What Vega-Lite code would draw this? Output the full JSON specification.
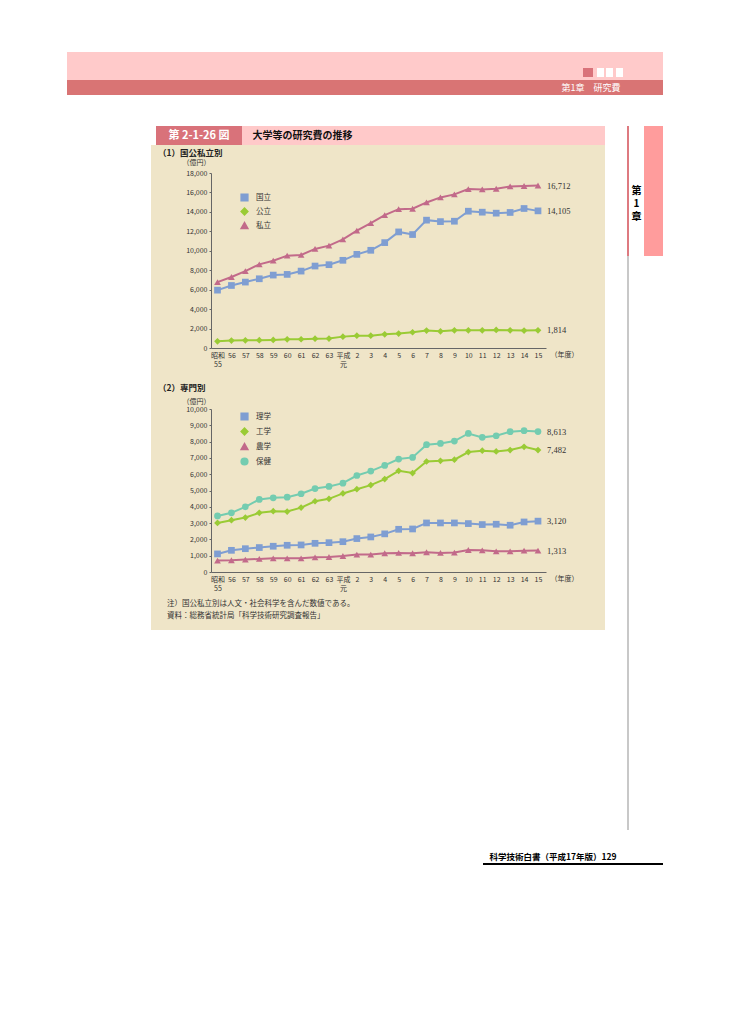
{
"$schema": "https://vega.github.io/schema/vega-lite/v6.json",
"padding": {"left": 67, "top": 52, "right": 0, "bottom": 0},
"background": "white",
"spacing": 0,
"resolve": {"scale": {"color": "independent", "shape": "independent"}, "legend": {"color": "independent", "shape": "independent"}},
"config": {
  "font": "Noto Sans CJK JP",
  "view": {"stroke": null},
  "concat": {"spacing": 0},
  "title": {"anchor": "start", "frame": "group"},
  "axis": {"labelColor": "#333", "titleColor": "#333", "domainColor": "#666", "tickColor": "#666", "grid": false, "labelFontSize": 7, "titleFontSize": 7, "titleFontWeight": "normal", "labelFlush": false, "labelOverlap": false},
  "legend": {"labelFontSize": 7.5, "labelColor": "#333", "padding": 0}
},
"datasets": {
  "kk": [
    {"year":1980,"s":"国立","v":5950},{"year":1981,"s":"国立","v":6430},{"year":1982,"s":"国立","v":6780},{"year":1983,"s":"国立","v":7120},{"year":1984,"s":"国立","v":7500},{"year":1985,"s":"国立","v":7570},{"year":1986,"s":"国立","v":7910},{"year":1987,"s":"国立","v":8430},{"year":1988,"s":"国立","v":8570},{"year":1989,"s":"国立","v":9020},{"year":1990,"s":"国立","v":9630},{"year":1991,"s":"国立","v":10050},{"year":1992,"s":"国立","v":10840},{"year":1993,"s":"国立","v":11940},{"year":1994,"s":"国立","v":11670},{"year":1995,"s":"国立","v":13150},{"year":1996,"s":"国立","v":13000},{"year":1997,"s":"国立","v":13040},{"year":1998,"s":"国立","v":14070},{"year":1999,"s":"国立","v":13970},{"year":2000,"s":"国立","v":13870},{"year":2001,"s":"国立","v":13940},{"year":2002,"s":"国立","v":14350},{"year":2003,"s":"国立","v":14105},
    {"year":1980,"s":"公立","v":690},{"year":1981,"s":"公立","v":760},{"year":1982,"s":"公立","v":790},{"year":1983,"s":"公立","v":800},{"year":1984,"s":"公立","v":830},{"year":1985,"s":"公立","v":890},{"year":1986,"s":"公立","v":900},{"year":1987,"s":"公立","v":960},{"year":1988,"s":"公立","v":970},{"year":1989,"s":"公立","v":1170},{"year":1990,"s":"公立","v":1270},{"year":1991,"s":"公立","v":1270},{"year":1992,"s":"公立","v":1410},{"year":1993,"s":"公立","v":1480},{"year":1994,"s":"公立","v":1620},{"year":1995,"s":"公立","v":1790},{"year":1996,"s":"公立","v":1720},{"year":1997,"s":"公立","v":1820},{"year":1998,"s":"公立","v":1820},{"year":1999,"s":"公立","v":1820},{"year":2000,"s":"公立","v":1860},{"year":2001,"s":"公立","v":1820},{"year":2002,"s":"公立","v":1790},{"year":2003,"s":"公立","v":1814},
    {"year":1980,"s":"私立","v":6780},{"year":1981,"s":"私立","v":7300},{"year":1982,"s":"私立","v":7910},{"year":1983,"s":"私立","v":8600},{"year":1984,"s":"私立","v":8980},{"year":1985,"s":"私立","v":9500},{"year":1986,"s":"私立","v":9570},{"year":1987,"s":"私立","v":10190},{"year":1988,"s":"私立","v":10530},{"year":1989,"s":"私立","v":11180},{"year":1990,"s":"私立","v":12080},{"year":1991,"s":"私立","v":12840},{"year":1992,"s":"私立","v":13660},{"year":1993,"s":"私立","v":14280},{"year":1994,"s":"私立","v":14320},{"year":1995,"s":"私立","v":14970},{"year":1996,"s":"私立","v":15490},{"year":1997,"s":"私立","v":15800},{"year":1998,"s":"私立","v":16350},{"year":1999,"s":"私立","v":16310},{"year":2000,"s":"私立","v":16380},{"year":2001,"s":"私立","v":16620},{"year":2002,"s":"私立","v":16660},{"year":2003,"s":"私立","v":16712}
  ],
  "sm": [
    {"year":1980,"s":"理学","v":1110},{"year":1981,"s":"理学","v":1330},{"year":1982,"s":"理学","v":1430},{"year":1983,"s":"理学","v":1500},{"year":1984,"s":"理学","v":1580},{"year":1985,"s":"理学","v":1640},{"year":1986,"s":"理学","v":1660},{"year":1987,"s":"理学","v":1760},{"year":1988,"s":"理学","v":1800},{"year":1989,"s":"理学","v":1860},{"year":1990,"s":"理学","v":2050},{"year":1991,"s":"理学","v":2150},{"year":1992,"s":"理学","v":2340},{"year":1993,"s":"理学","v":2620},{"year":1994,"s":"理学","v":2640},{"year":1995,"s":"理学","v":3010},{"year":1996,"s":"理学","v":3010},{"year":1997,"s":"理学","v":3010},{"year":1998,"s":"理学","v":2970},{"year":1999,"s":"理学","v":2910},{"year":2000,"s":"理学","v":2930},{"year":2001,"s":"理学","v":2870},{"year":2002,"s":"理学","v":3070},{"year":2003,"s":"理学","v":3120},
    {"year":1980,"s":"工学","v":3010},{"year":1981,"s":"工学","v":3180},{"year":1982,"s":"工学","v":3340},{"year":1983,"s":"工学","v":3630},{"year":1984,"s":"工学","v":3730},{"year":1985,"s":"工学","v":3710},{"year":1986,"s":"工学","v":3950},{"year":1987,"s":"工学","v":4340},{"year":1988,"s":"工学","v":4490},{"year":1989,"s":"工学","v":4820},{"year":1990,"s":"工学","v":5080},{"year":1991,"s":"工学","v":5330},{"year":1992,"s":"工学","v":5700},{"year":1993,"s":"工学","v":6210},{"year":1994,"s":"工学","v":6070},{"year":1995,"s":"工学","v":6780},{"year":1996,"s":"工学","v":6820},{"year":1997,"s":"工学","v":6890},{"year":1998,"s":"工学","v":7360},{"year":1999,"s":"工学","v":7440},{"year":2000,"s":"工学","v":7400},{"year":2001,"s":"工学","v":7480},{"year":2002,"s":"工学","v":7680},{"year":2003,"s":"工学","v":7482},
    {"year":1980,"s":"農学","v":700},{"year":1981,"s":"農学","v":720},{"year":1982,"s":"農学","v":760},{"year":1983,"s":"農学","v":800},{"year":1984,"s":"農学","v":840},{"year":1985,"s":"農学","v":840},{"year":1986,"s":"農学","v":840},{"year":1987,"s":"農学","v":900},{"year":1988,"s":"農学","v":920},{"year":1989,"s":"農学","v":980},{"year":1990,"s":"農学","v":1070},{"year":1991,"s":"農学","v":1070},{"year":1992,"s":"農学","v":1150},{"year":1993,"s":"農学","v":1170},{"year":1994,"s":"農学","v":1150},{"year":1995,"s":"農学","v":1210},{"year":1996,"s":"農学","v":1170},{"year":1997,"s":"農学","v":1190},{"year":1998,"s":"農学","v":1350},{"year":1999,"s":"農学","v":1330},{"year":2000,"s":"農学","v":1270},{"year":2001,"s":"農学","v":1270},{"year":2002,"s":"農学","v":1310},{"year":2003,"s":"農学","v":1313},
    {"year":1980,"s":"保健","v":3440},{"year":1981,"s":"保健","v":3630},{"year":1982,"s":"保健","v":4000},{"year":1983,"s":"保健","v":4450},{"year":1984,"s":"保健","v":4550},{"year":1985,"s":"保健","v":4590},{"year":1986,"s":"保健","v":4800},{"year":1987,"s":"保健","v":5120},{"year":1988,"s":"保健","v":5250},{"year":1989,"s":"保健","v":5450},{"year":1990,"s":"保健","v":5920},{"year":1991,"s":"保健","v":6190},{"year":1992,"s":"保健","v":6540},{"year":1993,"s":"保健","v":6930},{"year":1994,"s":"保健","v":7030},{"year":1995,"s":"保健","v":7810},{"year":1996,"s":"保健","v":7890},{"year":1997,"s":"保健","v":8030},{"year":1998,"s":"保健","v":8500},{"year":1999,"s":"保健","v":8260},{"year":2000,"s":"保健","v":8360},{"year":2001,"s":"保健","v":8610},{"year":2002,"s":"保健","v":8670},{"year":2003,"s":"保健","v":8613}
  ]
},
"vconcat": [
  {"width": 596, "height": 16, "data": {"values": []}, "mark": "point", "view": {"fill": "#FFCACA", "stroke": null}},
  {"hconcat": [
    {"width": 516, "height": 9, "data": {"values": []}, "mark": "point", "view": {"fill": "#FFCACA", "stroke": null}},
    {"width": 10, "height": 9, "data": {"values": []}, "mark": "point", "view": {"fill": "#D9727A", "stroke": null}},
    {"width": 4, "height": 9, "data": {"values": []}, "mark": "point", "view": {"fill": "#FFCACA", "stroke": null}},
    {"width": 7, "height": 9, "data": {"values": []}, "mark": "point", "view": {"fill": "#FFFFFF", "stroke": null}},
    {"width": 2, "height": 9, "data": {"values": []}, "mark": "point", "view": {"fill": "#FFCACA", "stroke": null}},
    {"width": 7, "height": 9, "data": {"values": []}, "mark": "point", "view": {"fill": "#FFFFFF", "stroke": null}},
    {"width": 3, "height": 9, "data": {"values": []}, "mark": "point", "view": {"fill": "#FFCACA", "stroke": null}},
    {"width": 7, "height": 9, "data": {"values": []}, "mark": "point", "view": {"fill": "#FFFFFF", "stroke": null}},
    {"width": 40, "height": 9, "data": {"values": []}, "mark": "point", "view": {"fill": "#FFCACA", "stroke": null}}
  ], "spacing": 0},
  {"width": 596, "height": 3, "data": {"values": []}, "mark": "point", "view": {"fill": "#FFCACA", "stroke": null}},
  {"hconcat": [
    {"width": 489, "height": 15, "data": {"values": []}, "mark": "point", "view": {"fill": "#D97474", "stroke": null}},
    {"width": 70, "height": 15, "data": {"values": [{"t": "第1章　研究費"}]}, "mark": {"type": "text", "color": "white", "fontSize": 9}, "encoding": {"text": {"field": "t"}}, "view": {"fill": "#D97474", "stroke": null}},
    {"width": 37, "height": 15, "data": {"values": []}, "mark": "point", "view": {"fill": "#D97474", "stroke": null}}
  ], "spacing": 0},
  {"width": 596, "height": 31, "data": {"values": []}, "mark": "point"},
  {"hconcat": [
    {"width": 84, "height": 1, "data": {"values": []}, "mark": "point"},
    {"vconcat": [
      {"hconcat": [
        {"width": 5, "height": 19, "data": {"values": []}, "mark": "point"},
        {"width": 86, "height": 19, "data": {"values": [{"t": "第 2-1-26 図"}]}, "mark": {"type": "text", "color": "white", "fontSize": 11, "fontWeight": "bold"}, "encoding": {"text": {"field": "t"}}, "view": {"fill": "#D9727A", "stroke": null}},
        {"width": 363, "height": 19, "data": {"values": [{"t": "大学等の研究費の推移"}]}, "mark": {"type": "text", "color": "#111", "fontSize": 10, "fontWeight": "bold", "align": "left", "dx": -171}, "encoding": {"text": {"field": "t"}}, "view": {"fill": "#FFC9C9", "stroke": null}}
      ], "spacing": 0},
      {"width": 454, "height": 233,
       "view": {"fill": "#EFE5C8", "stroke": null},
       "title": {"text": "（1）国公私立別", "orient": "top", "anchor": "start", "frame": "group", "offset": -12, "dx": 7, "fontSize": 8.5, "fontWeight": "bold", "color": "#222"},
       "data": {"name": "kk"},
       "encoding": {
         "x": {"field": "year", "type": "quantitative",
               "scale": {"domain": [1979.534, 2003.574], "range": [60, 395], "nice": false, "zero": false},
               "axis": {"title": "（年度）", "values": [1980,1981,1982,1983,1984,1985,1986,1987,1988,1989,1990,1991,1992,1993,1994,1995,1996,1997,1998,1999,2000,2001,2002,2003],
                        "labelExpr": "datum.value == 1980 ? ['昭和','55'] : datum.value < 1989 ? '' + (datum.value - 1925) : datum.value == 1989 ? ['平成','元'] : '' + (datum.value - 1988)",
                        "offset": -30, "ticks": false, "labelPadding": 3, "labelLineHeight": 9, "labelBaseline": "top", "labelOverlap": false, "labelFlush": false,
                        "titleX": 399, "titleY": 6, "titleAlign": "left", "titleBaseline": "middle"}},
         "y": {"field": "v", "type": "quantitative",
               "scale": {"domain": [0, 18000], "range": [203, 28], "nice": false, "zero": true},
               "axis": {"title": "（億円）", "values": [0,2000,4000,6000,8000,10000,12000,14000,16000,18000], "format": ",d", "labelOverlap": false, "labelFlush": false,
                        "offset": -60, "tickSize": 2, "titleAngle": 0, "titleX": -15, "titleY": 17, "titleAlign": "center", "titleBaseline": "middle"}}
       },
       "layer": [
         {"data": {"values": [{}]}, "mark": {"type": "rect", "fill": "white"},
          "encoding": {
            "x": {"datum": 1979.534, "type": "quantitative",
                  "axis": {"title": "（年度）", "values": [1980,1981,1982,1983,1984,1985,1986,1987,1988,1989,1990,1991,1992,1993,1994,1995,1996,1997,1998,1999,2000,2001,2002,2003],
                        "labelExpr": "datum.value == 1980 ? ['昭和','55'] : datum.value < 1989 ? '' + (datum.value - 1925) : datum.value == 1989 ? ['平成','元'] : '' + (datum.value - 1988)",
                        "offset": -30, "ticks": false, "labelPadding": 3, "labelLineHeight": 9, "labelBaseline": "top", "labelOverlap": false, "labelFlush": false,
                        "titleX": 399, "titleY": 6, "titleAlign": "left", "titleBaseline": "middle"}},
            "x2": {"datum": 2003.574},
            "y": {"datum": 0, "type": "quantitative",
                  "axis": {"title": "（億円）", "values": [0,2000,4000,6000,8000,10000,12000,14000,16000,18000], "format": ",d", "labelOverlap": false, "labelFlush": false,
                        "offset": -60, "tickSize": 2, "titleAngle": 0, "titleX": -15, "titleY": 17, "titleAlign": "center", "titleBaseline": "middle"}},
            "y2": {"datum": 18000}}},
         {"mark": {"type": "line", "strokeWidth": 2},
          "encoding": {
            "color": {"field": "s", "type": "nominal", "sort": ["国立", "公立", "私立"],
                      "scale": {"domain": ["国立", "公立", "私立"], "range": ["#7F9ED2", "#9ACB35", "#C26A8A"]},
                      "legend": {"title": null, "orient": "none", "legendX": 89, "legendY": 48, "symbolSize": 45, "labelOffset": 7, "rowPadding": 1}}
          }},
         {"mark": {"type": "point", "filled": true, "size": 45, "opacity": 1},
          "encoding": {
            "color": {"field": "s", "type": "nominal", "sort": ["国立", "公立", "私立"]},
            "shape": {"field": "s", "type": "nominal", "sort": ["国立", "公立", "私立"],
                      "scale": {"domain": ["国立", "公立", "私立"], "range": ["square", "diamond", "triangle-up"]},
                      "legend": {"title": null, "orient": "none", "legendX": 89, "legendY": 48, "symbolSize": 45, "labelOffset": 7, "rowPadding": 1}}
          }},
         {"transform": [{"filter": "datum.year == 2003"}],
          "mark": {"type": "text", "align": "left", "dx": 9, "font": "Liberation Serif", "fontSize": 8.5, "color": "#333"},
          "encoding": {
            "text": {"field": "v", "type": "quantitative", "format": ",d"}
          }}
       ]},
      {"width": 454, "height": 218,
       "view": {"fill": "#EFE5C8", "stroke": null},
       "title": {"text": "（2）専門別", "orient": "top", "anchor": "start", "frame": "group", "offset": -14, "dx": 7, "fontSize": 8.5, "fontWeight": "bold", "color": "#222"},
       "data": {"name": "sm"},
       "encoding": {
         "x": {"field": "year", "type": "quantitative",
               "scale": {"domain": [1979.534, 2003.574], "range": [60, 395], "nice": false, "zero": false},
               "axis": {"title": "（年度）", "values": [1980,1981,1982,1983,1984,1985,1986,1987,1988,1989,1990,1991,1992,1993,1994,1995,1996,1997,1998,1999,2000,2001,2002,2003],
                        "labelExpr": "datum.value == 1980 ? ['昭和','55'] : datum.value < 1989 ? '' + (datum.value - 1925) : datum.value == 1989 ? ['平成','元'] : '' + (datum.value - 1988)",
                        "offset": -24, "ticks": false, "labelPadding": 3, "labelLineHeight": 9, "labelBaseline": "top", "labelOverlap": false, "labelFlush": false,
                        "titleX": 399, "titleY": 6, "titleAlign": "left", "titleBaseline": "middle"}},
         "y": {"field": "v", "type": "quantitative",
               "scale": {"domain": [0, 10000], "range": [194, 31], "nice": false, "zero": true},
               "axis": {"title": "（億円）", "values": [0,1000,2000,3000,4000,5000,6000,7000,8000,9000,10000], "format": ",d", "labelOverlap": false, "labelFlush": false,
                        "offset": -60, "tickSize": 2, "titleAngle": 0, "titleX": -15, "titleY": 23, "titleAlign": "center", "titleBaseline": "middle"}}
       },
       "layer": [
         {"data": {"values": [{}]}, "mark": {"type": "rect", "fill": "white"},
          "encoding": {
            "x": {"datum": 1979.534, "type": "quantitative",
                  "axis": {"title": "（年度）", "values": [1980,1981,1982,1983,1984,1985,1986,1987,1988,1989,1990,1991,1992,1993,1994,1995,1996,1997,1998,1999,2000,2001,2002,2003],
                        "labelExpr": "datum.value == 1980 ? ['昭和','55'] : datum.value < 1989 ? '' + (datum.value - 1925) : datum.value == 1989 ? ['平成','元'] : '' + (datum.value - 1988)",
                        "offset": -24, "ticks": false, "labelPadding": 3, "labelLineHeight": 9, "labelBaseline": "top", "labelOverlap": false, "labelFlush": false,
                        "titleX": 399, "titleY": 6, "titleAlign": "left", "titleBaseline": "middle"}},
            "x2": {"datum": 2003.574},
            "y": {"datum": 0, "type": "quantitative",
                  "axis": {"title": "（億円）", "values": [0,1000,2000,3000,4000,5000,6000,7000,8000,9000,10000], "format": ",d", "labelOverlap": false, "labelFlush": false,
                        "offset": -60, "tickSize": 2, "titleAngle": 0, "titleX": -15, "titleY": 23, "titleAlign": "center", "titleBaseline": "middle"}},
            "y2": {"datum": 10000}}},
         {"mark": {"type": "line", "strokeWidth": 2},
          "encoding": {
            "color": {"field": "s", "type": "nominal", "sort": ["理学", "工学", "農学", "保健"],
                      "scale": {"domain": ["理学", "工学", "農学", "保健"], "range": ["#7F9ED2", "#9ACB35", "#C26A8A", "#74CCB0"]},
                      "legend": {"title": null, "orient": "none", "legendX": 89, "legendY": 34, "symbolSize": 45, "labelOffset": 7, "rowPadding": 2}}
          }},
         {"mark": {"type": "point", "filled": true, "size": 45, "opacity": 1},
          "encoding": {
            "color": {"field": "s", "type": "nominal", "sort": ["理学", "工学", "農学", "保健"]},
            "shape": {"field": "s", "type": "nominal", "sort": ["理学", "工学", "農学", "保健"],
                      "scale": {"domain": ["理学", "工学", "農学", "保健"], "range": ["square", "diamond", "triangle-up", "circle"]},
                      "legend": {"title": null, "orient": "none", "legendX": 89, "legendY": 34, "symbolSize": 45, "labelOffset": 7, "rowPadding": 2}}
          }},
         {"transform": [{"filter": "datum.year == 2003"}],
          "mark": {"type": "text", "align": "left", "dx": 9, "font": "Liberation Serif", "fontSize": 8.5, "color": "#333"},
          "encoding": {
            "text": {"field": "v", "type": "quantitative", "format": ",d"}
          }}
       ]},
      {"width": 454, "height": 34, "data": {"values": []}, "mark": "point",
       "view": {"fill": "#EFE5C8", "stroke": null},
       "title": {"text": ["注）国公私立別は人文・社会科学を含んだ数値である。", "資料：総務省統計局「科学技術研究調査報告」"], "orient": "top", "anchor": "start", "frame": "group", "offset": -23, "dx": 16, "fontSize": 7.5, "fontWeight": "normal", "lineHeight": 12, "color": "#333"}}
    ], "spacing": 0, "resolve": {"scale": {"color": "independent", "shape": "independent"}, "legend": {"color": "independent", "shape": "independent"}}},
    {"width": 22, "height": 1, "data": {"values": []}, "mark": "point"},
    {"vconcat": [
      {"width": 2, "height": 130, "data": {"values": []}, "mark": "point", "view": {"fill": "#DE7A80", "stroke": null}},
      {"width": 2, "height": 574, "data": {"values": []}, "mark": "point", "view": {"fill": "#C8C8C8", "stroke": null}}
    ], "spacing": 0},
    {"width": 15, "height": 130, "data": {"values": [{"t": "第\n1\n章"}]}, "mark": {"type": "text", "lineBreak": "\n", "fontSize": 10, "fontWeight": "bold", "lineHeight": 13, "color": "#000"}, "encoding": {"text": {"field": "t"}}},
    {"width": 19, "height": 130, "data": {"values": []}, "mark": "point", "view": {"fill": "#FF9C9C", "stroke": null}}
  ], "spacing": 0, "resolve": {"scale": {"color": "independent", "shape": "independent"}, "legend": {"color": "independent", "shape": "independent"}}},
  {"width": 596, "height": 21, "data": {"values": []}, "mark": "point"},
  {"hconcat": [
    {"width": 416, "height": 1, "data": {"values": []}, "mark": "point"},
    {"width": 140, "height": 12, "data": {"values": [{"t": "科学技術白書（平成17年版）129"}]}, "mark": {"type": "text", "color": "#000", "fontSize": 8.5, "fontWeight": "bold"}, "encoding": {"text": {"field": "t"}}}
  ], "spacing": 0},
  {"hconcat": [
    {"width": 416, "height": 1, "data": {"values": []}, "mark": "point"},
    {"width": 180, "height": 2, "data": {"values": []}, "mark": "point", "view": {"fill": "#000000", "stroke": null}}
  ], "spacing": 0}
]
}
